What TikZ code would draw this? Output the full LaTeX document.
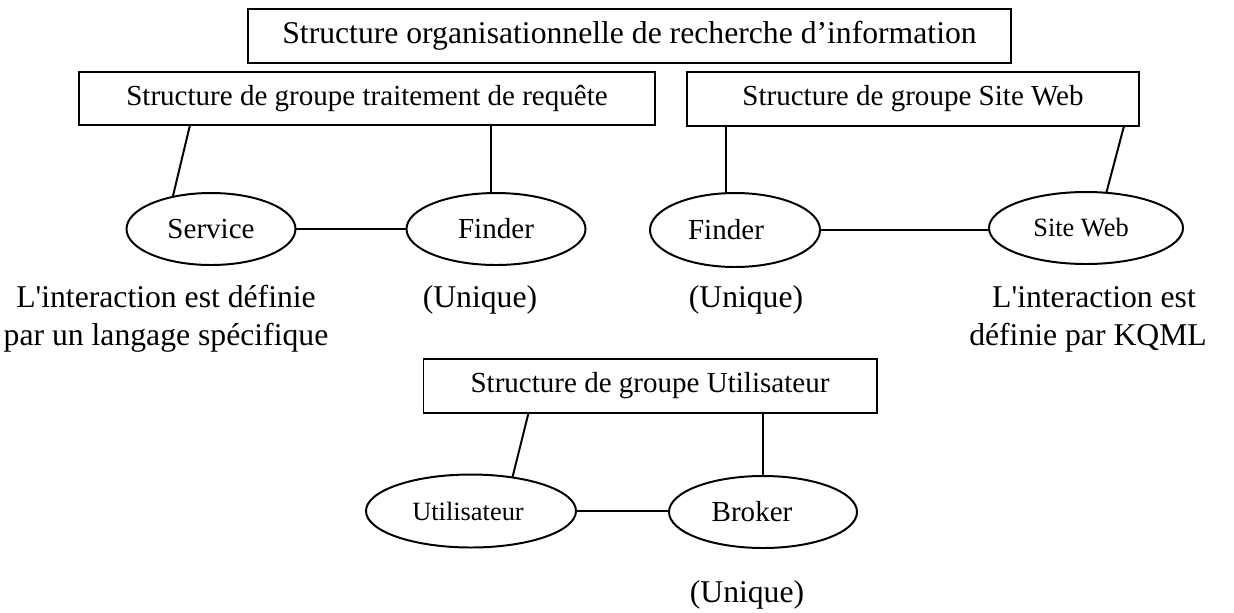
\documentclass[tikz,border=0pt]{standalone}
\usepackage{fontspec}
\setmainfont{Liberation Serif}
\usetikzlibrary{calc,shapes.geometric}
\newdimen\pxu
\pxu=0.3788pt
\tikzset{
  every node/.style={inner sep=0pt, outer sep=0pt},
  groupbox/.style={draw, line width=0.75pt, font=\fontsize{11}{13}\selectfont},
  rolebox/.style={draw, ellipse, line width=0.75pt, font=\fontsize{11}{13}\selectfont},
  link/.style={line width=0.75pt},
  note/.style={anchor=base, font=\fontsize{12}{14}\selectfont},
}
\begin{document}
\begin{tikzpicture}[x=0.3788pt, y=-0.3788pt]
\useasboundingbox (0,0) rectangle (1234,612);

% organisational structure
\node[draw, line width=0.75pt, font=\fontsize{12}{14}\selectfont,
      minimum width=763*\pxu, minimum height=54*\pxu] (org) at (629.5,36)
      {Structure organisationnelle de recherche d’information};

% group structures
\node[groupbox, minimum width=576*\pxu, minimum height=53*\pxu] (grpreq) at (367,98.5)
      {Structure de groupe traitement de requête};
\node[groupbox, minimum width=452*\pxu, minimum height=54*\pxu] (grpweb) at (913,99)
      {Structure de groupe Site Web};
\node[groupbox, minimum width=453*\pxu, minimum height=54*\pxu] (grpuser) at (650,386)
      {Structure de groupe Utilisateur};

% roles
\node[rolebox, minimum width=169*\pxu, minimum height=72*\pxu] (service) at (211,229) {Service};
\node[rolebox, minimum width=179*\pxu, minimum height=72*\pxu] (finderA) at (496,229) {Finder};
\node[rolebox, minimum width=170*\pxu, minimum height=74*\pxu] (finderB) at (735,230)
      {\hspace*{-18\pxu}Finder};
\node[rolebox, minimum width=194*\pxu, minimum height=72*\pxu,
      font=\fontsize{10}{12}\selectfont] (siteweb) at (1086,228) {Site Web\hspace*{10\pxu}};
\node[rolebox, minimum width=210*\pxu, minimum height=73*\pxu,
      font=\fontsize{10}{12}\selectfont] (user) at (471,511) {Utilisateur\hspace*{6\pxu}};
\node[rolebox, minimum width=188*\pxu, minimum height=72*\pxu] (broker) at (763,512)
      {Broker\hspace*{22\pxu}};

% links between groups and roles
\draw[link] ($(grpreq.south west)+(111,0)$) -- (service.140.6);
\draw[link] ($(finderA.north)+(-5,0)$) -- ($(finderA.north |- grpreq.south)+(-5,0)$);
\draw[link] (service.east) -- (finderA.west);

\draw[link] ($(finderB.north)+(-9,0)$) -- ($(finderB.north |- grpweb.south)+(-9,0)$);
\draw[link] ($(grpweb.south west)+(437,0)$) -- (siteweb.60.4);
\draw[link] (finderB.east) -- (finderB.east -| siteweb.west);

\draw[link] ($(grpuser.south west)+(105,0)$) -- (user.39.3);
\draw[link] (broker.north) -- (broker.north |- grpuser.south);
\draw[link] (user.east) -- (user.east -| broker.west);

% notes
\node[note] (noteA1) at (166,307) {L\textquotesingle interaction est définie};
\node[note] (noteA2) at (166,345) {par un langage spécifique};
\node[note] (uniqA) at (480,307) {(Unique)};
\node[note] (uniqB) at (746,307) {(Unique)};
\node[note] (noteB1) at (1094,307) {L\textquotesingle interaction est};
\node[note] (noteB2) at (1088,345) {définie par KQML};
\node[note] (uniqC) at (747,602) {(Unique)};
\end{tikzpicture}
\end{document}
